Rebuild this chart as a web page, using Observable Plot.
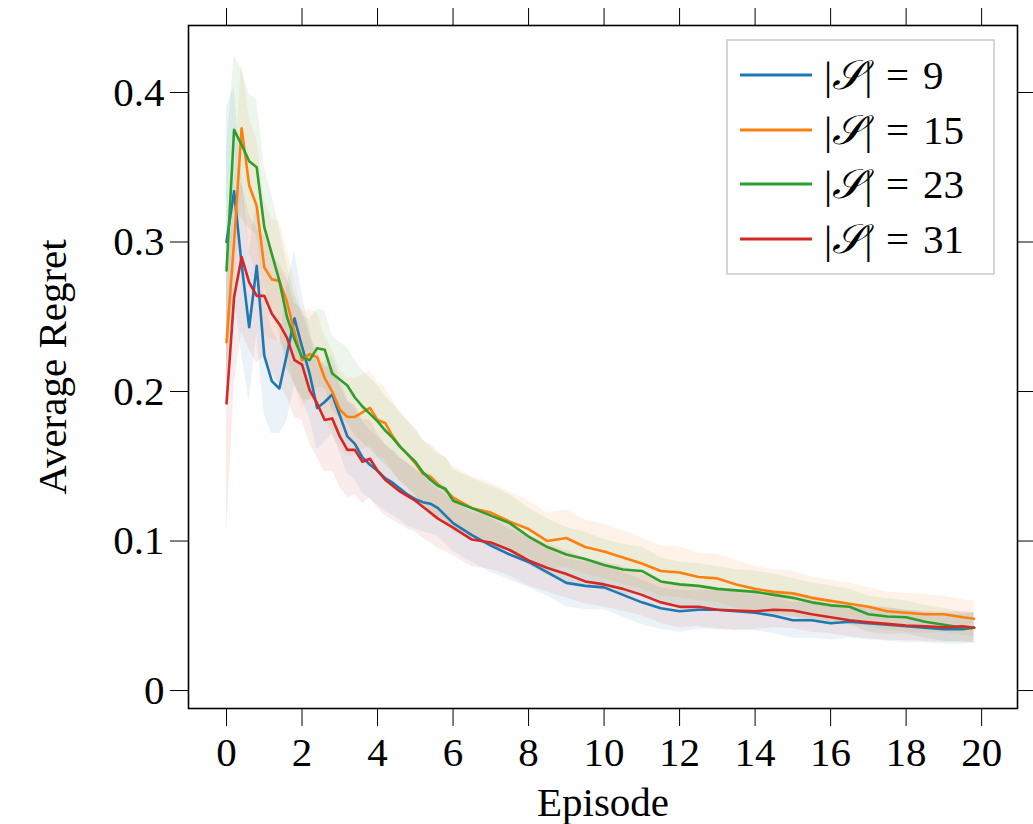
<!DOCTYPE html>
<html><head><meta charset="utf-8">
<script src="https://cdn.jsdelivr.net/npm/d3@7"></script>
<script src="https://cdn.jsdelivr.net/npm/@observablehq/plot@0.6"></script>
<style>
body{margin:0;background:#fff}
#wrap{position:relative;width:1033px;height:824px}
#legend{position:absolute;left:0;top:0}
</style></head>
<body><div id="wrap"></div>
<script>
const episode = [0,0.2,0.4,0.6,0.8,1.0,1.2,1.4,1.6,1.8,2.0,2.2,2.4,2.6,2.8,3.0,3.2,3.4,3.6,3.8,4.0,4.2,4.4,4.6,4.8,5.0,5.2,5.4,5.6,5.8,6.0,
  6.5,7.0,7.5,8.0,8.5,9.0,9.5,10.0,10.5,11.0,11.5,12.0,12.5,13.0,13.5,14.0,14.5,15.0,15.5,16.0,16.5,17.0,17.5,18.0,18.5,19.0,19.5,19.8];
const seriesLabels = ["9","15","23","31"];
const seriesColors = ["#1f77b4","#ff7f0e","#2ca02c","#d62728"];
const regret9 = [0.300,0.334,0.285,0.243,0.284,0.224,0.207,0.202,0.225,0.249,
  0.230,0.212,0.189,0.193,0.198,0.184,0.170,0.165,0.156,0.151,
  0.147,0.142,0.139,0.135,0.131,0.128,0.126,0.125,0.122,0.117,
  0.112,
  0.104,0.097,0.091,0.086,0.079,0.072,0.070,0.069,0.064,0.059,
  0.055,0.053,0.054,0.054,0.053,0.052,0.050,0.047,0.047,0.045,
  0.046,0.045,0.044,0.043,0.042,0.041,0.041,
  0.042];
const regret15 = [0.233,0.300,0.376,0.338,0.324,0.283,0.275,0.274,0.260,0.240,
  0.221,0.225,0.223,0.209,0.200,0.188,0.183,0.183,0.186,0.189,
  0.181,0.179,0.170,0.163,0.158,0.152,0.145,0.143,0.138,0.134,
  0.129,
  0.122,0.119,0.113,0.108,0.100,0.102,0.096,0.093,0.089,0.085,
  0.080,0.079,0.076,0.075,0.071,0.068,0.066,0.065,0.062,0.060,
  0.058,0.056,0.053,0.052,0.051,0.051,0.049,
  0.048];
const regret23 = [0.281,0.375,0.365,0.354,0.350,0.310,0.292,0.274,0.250,0.235,
  0.223,0.221,0.229,0.228,0.212,0.208,0.204,0.196,0.190,0.185,
  0.180,0.174,0.169,0.163,0.158,0.153,0.146,0.141,0.137,0.135,
  0.127,
  0.122,0.117,0.112,0.103,0.096,0.091,0.088,0.084,0.081,0.080,
  0.073,0.071,0.070,0.068,0.067,0.066,0.064,0.062,0.059,0.057,
  0.056,0.051,0.0495,0.049,0.046,0.044,0.042,
  0.042];
const regret31 = [0.192,0.263,0.290,0.273,0.264,0.264,0.252,0.245,0.236,0.221,
  0.218,0.201,0.192,0.181,0.182,0.170,0.161,0.161,0.153,0.155,
  0.147,0.141,0.137,0.133,0.130,0.127,0.123,0.119,0.115,0.112,
  0.109,
  0.101,0.099,0.094,0.087,0.082,0.078,0.073,0.071,0.068,0.064,
  0.059,0.056,0.056,0.054,0.0535,0.053,0.054,0.0535,0.051,0.049,
  0.047,0.0457,0.0446,0.0435,0.043,0.0423,0.043,
  0.042];
const spread9 = [0.09,0.07,0.06,0.05,0.045,0.04,0.035,0.03,0.045,0.045,
  0.035,0.03,0.028,0.027,0.026,0.025,0.025,0.024,0.024,0.023,
  0.023,0.022,0.022,0.021,0.021,0.020,0.020,0.020,0.019,0.019,
  0.019,
  0.018,0.018,0.017,0.017,0.016,0.016,0.016,0.015,0.015,0.015,
  0.014,0.014,0.013,0.013,0.013,0.012,0.012,0.012,0.012,0.011,
  0.011,0.011,0.011,0.011,0.010,0.010,0.010,
  0.010];
const spread15 = [0.03,0.04,0.045,0.045,0.045,0.045,0.04,0.04,0.035,0.035,
  0.032,0.03,0.03,0.028,0.028,0.027,0.026,0.026,0.025,0.025,
  0.025,0.024,0.024,0.023,0.023,0.023,0.022,0.022,0.022,0.022,
  0.021,
  0.021,0.020,0.020,0.019,0.019,0.019,0.018,0.018,0.018,0.017,
  0.017,0.017,0.016,0.016,0.016,0.015,0.015,0.015,0.014,0.014,
  0.014,0.013,0.013,0.013,0.013,0.012,0.012,
  0.012];
const spread23 = [0.08,0.05,0.05,0.045,0.045,0.04,0.04,0.035,0.035,0.03,
  0.028,0.027,0.026,0.026,0.025,0.025,0.025,0.025,0.024,0.024,
  0.024,0.023,0.023,0.023,0.022,0.022,0.022,0.022,0.021,0.021,
  0.021,
  0.020,0.020,0.019,0.019,0.019,0.018,0.018,0.017,0.017,0.016,
  0.016,0.015,0.015,0.015,0.014,0.014,0.014,0.013,0.013,0.013,
  0.012,0.012,0.012,0.011,0.011,0.011,0.010,
  0.010];
const spread31 = [0.088,0.06,0.05,0.045,0.045,0.04,0.04,0.04,0.04,0.038,
  0.037,0.036,0.036,0.035,0.035,0.034,0.032,0.030,0.028,0.026,
  0.025,0.024,0.023,0.022,0.022,0.021,0.021,0.020,0.020,0.019,
  0.019,
  0.018,0.018,0.017,0.017,0.016,0.016,0.015,0.015,0.015,0.014,
  0.014,0.014,0.013,0.013,0.013,0.012,0.012,0.012,0.012,0.011,
  0.011,0.011,0.011,0.010,0.010,0.010,0.010,
  0.010];
const xTicks = [0,2,4,6,8,10,12,14,16,18,20];
const yTicks = [0,0.1,0.2,0.3,0.4];

const means = [regret9, regret15, regret23, regret31];
const spreads = [spread9, spread15, spread23, spread31];
const rows = [];
seriesLabels.forEach((s, k) => {
  episode.forEach((e, i) => {
    rows.push({series: s, episode: e, regret: means[k][i], lo: means[k][i] - spreads[k][i], hi: means[k][i] + spreads[k][i]});
  });
});

const FONT = "'Liberation Serif', 'DejaVu Serif', serif";
const chart = Plot.plot({
  width: 1033, height: 824,
  marginLeft: 188, marginRight: 16, marginTop: 25, marginBottom: 116,
  style: {fontFamily: FONT, fontSize: "41px", background: "white", color: "black"},
  x: {domain: [-1.007, 20.95]},
  y: {domain: [-0.012, 0.4448]},
  color: {domain: seriesLabels, range: seriesColors},
  marks: [
    Plot.areaY(rows, {x: "episode", y1: "lo", y2: "hi", z: "series", fill: "series", fillOpacity: 0.09}),
    Plot.lineY(rows, {x: "episode", y: "regret", z: "series", stroke: "series", strokeWidth: 2.6}),
    Plot.frame({stroke: "black", strokeWidth: 1.6}),
    Plot.axisX({anchor: "bottom", ticks: xTicks, tickSize: 18, tickPadding: 10, label: null, fontSize: 41}),
    Plot.axisX({anchor: "top", ticks: xTicks, tickSize: 18, tickFormat: () => "", label: null}),
    Plot.axisY({anchor: "left", ticks: yTicks, tickSize: 18, tickPadding: 6, label: null, fontSize: 41, tickFormat: d => d === 0 ? "0" : String(d)}),
    Plot.axisY({anchor: "right", ticks: yTicks, tickSize: 18, tickFormat: () => "", label: null}),
    Plot.text(["Episode"], {frameAnchor: "bottom", dy: 94, textAnchor: "middle", lineAnchor: "middle", fontSize: 41}),
    Plot.text(["Average Regret"], {frameAnchor: "left", dx: -136, rotate: -90, textAnchor: "middle", lineAnchor: "middle", fontSize: 41})
  ]
});
const wrap = document.getElementById("wrap");
wrap.appendChild(chart);

// legend
const lg = d3.select(wrap).append("svg").attr("id", "legend")
  .attr("width", 1033).attr("height", 824)
  .style("pointer-events", "none");
lg.append("rect").attr("x", 727).attr("y", 40).attr("width", 267).attr("height", 234)
  .attr("fill", "white").attr("stroke", "#cccccc").attr("stroke-width", 1.6);
const rowY = [75, 130, 184, 239];
seriesLabels.forEach((s, i) => {
  lg.append("line").attr("x1", 740).attr("x2", 812).attr("y1", rowY[i]).attr("y2", rowY[i])
    .attr("stroke", seriesColors[i]).attr("stroke-width", 3);
  const t = lg.append("text").attr("x", 824).attr("y", rowY[i] + 14)
    .attr("font-family", FONT).attr("font-size", 41).attr("fill", "black");
  t.append("tspan").text("|");
  t.append("tspan").attr("font-style", "italic").text("𝒮");
  t.append("tspan").text("|\u2004=\u2004" + s);
});
</script>
</body></html>
